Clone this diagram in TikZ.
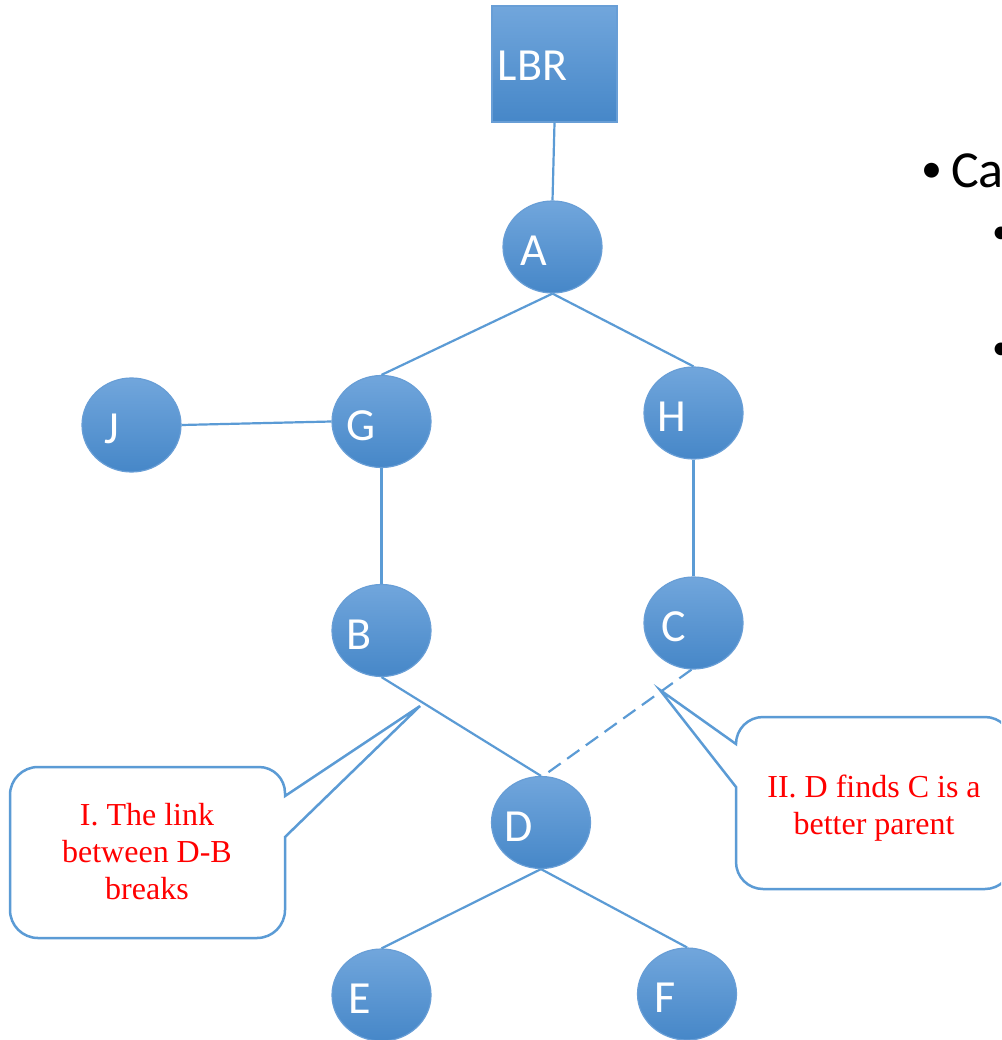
\documentclass[tikz,border=0pt]{standalone}
\usepackage{fontspec}
\setmainfont{Liberation Serif}
\newfontfamily\calfont{Carlito}
\usetikzlibrary{shapes.geometric}
\definecolor{edgeblue}{RGB}{91,155,213}
\definecolor{topblue}{RGB}{113,166,220}
\definecolor{botblue}{RGB}{70,135,200}
\definecolor{rimblue}{RGB}{104,158,214}
\tikzset{
  vtx/.style={ellipse, minimum width=99pt, minimum height=92pt, inner sep=0pt,
    top color=topblue, bottom color=botblue, draw=rimblue, line width=1.2pt},
  rootbox/.style={rectangle, minimum width=125pt, minimum height=116pt, inner sep=0pt,
    top color=topblue, bottom color=botblue, draw=rimblue, line width=1.2pt},
  vlabel/.style={text=white, font=\calfont\fontsize{46}{50}\selectfont},
  link/.style={draw=edgeblue, line width=2.2pt},
  broken/.style={link, dash pattern=on 15pt off 8pt},
  balloon/.style={draw=edgeblue, line width=2.5pt, fill=white, line join=miter},
  note/.style={text=red, align=center, font=\fontsize{32}{37}\selectfont},
  slide/.style={text=black, font=\calfont\fontsize{52}{60}\selectfont, inner sep=0pt},
  dotbig/.style={text=black, font=\calfont\fontsize{42}{50}\selectfont, inner sep=0pt},
  dotsmall/.style={text=black, font=\calfont\fontsize{36}{44}\selectfont, inner sep=0pt}
}
\begin{document}
\begin{tikzpicture}[x=1pt,y=1pt]
\useasboundingbox (0,0) rectangle (1001,-1040);
\clip (0,0) rectangle (1001,-1040);
\fill[white] (0,0) rectangle (1001,-1040);

% nodes
\node[rootbox, label={[vlabel, xshift=-22pt, yshift=-2pt]center:LBR}] (lbr) at (554.5,-64) {};
\node[vtx, label={[vlabel, xshift=-19pt, yshift=-4pt]center:A}] (a) at (552.5,-247) {};
\node[vtx, label={[vlabel, xshift=-20pt, yshift=-4pt]center:G}] (g) at (381.5,-421.5) {};
\node[vtx, minimum height=94pt, label={[vlabel, xshift=-20pt, yshift=-4pt]center:J}] (j) at (131.5,-425) {};
\node[vtx, label={[vlabel, xshift=-22pt, yshift=-4pt]center:H}] (h) at (693.5,-413) {};
\node[vtx, label={[vlabel, xshift=-22pt, yshift=-4pt]center:B}] (b) at (381.5,-630.5) {};
\node[vtx, label={[vlabel, xshift=-20pt, yshift=-4pt]center:C}] (c) at (693.5,-623) {};
\node[vtx, label={[vlabel, xshift=-22pt, yshift=-4pt]center:D}] (d) at (541,-822.5) {};
\node[vtx, label={[vlabel, xshift=-22pt, yshift=-4pt]center:E}] (e) at (381.5,-995) {};
\node[vtx, label={[vlabel, xshift=-22pt, yshift=-4pt]center:F}] (f) at (687,-994) {};

% connectors
\draw[link] (lbr.south) -- (a.north);
\draw[link] (a.south) -- (g.north);
\draw[link] (a.south) -- (h.north);
\draw[link] (j.east) -- (g.west);
\draw[link] (g.south) -- (b.north);
\draw[link] (h.south) -- (c.north);
\draw[link] (b.south) -- (d.north);
\draw[broken] ([xshift=-2pt]c.south) -- ([xshift=5pt,yshift=2pt]d.north);
\draw[link] (d.south) -- (e.north);
\draw[link] (d.south) -- (f.north);

% callouts
\coordinate (tipone) at (420,-706);
\coordinate (tiptwo) at (660,-690);
\draw[balloon] (285,-796) -- (tipone) -- (285,-837) -- (285,-910)
  arc[start angle=0, end angle=-90, radius=28] -- (38,-938)
  arc[start angle=270, end angle=180, radius=28] -- (10,-795)
  arc[start angle=180, end angle=90, radius=28] -- (259,-767)
  arc[start angle=90, end angle=0, radius=26] -- cycle;
\draw[balloon] (736,-744) -- (tiptwo) -- (736,-787) -- (736,-862)
  arc[start angle=180, end angle=270, radius=27] -- (985,-889)
  arc[start angle=270, end angle=360, radius=27] -- (1012,-744)
  arc[start angle=0, end angle=90, radius=27] -- (763,-717)
  arc[start angle=90, end angle=180, radius=27] -- cycle;
\node[note] (noteone) at (147,-852) {I. The link\\between D-B\\breaks};
\node[note] (notetwo) at (874,-808) {II. D finds C is a\\better parent};

% slide text on the right
\node[slide, anchor=base west] (ca) at (951,-188) {Ca};
\node[dotbig, anchor=base east] (bulletone) at (943,-183) {•};
\node[dotsmall, anchor=base west] (bullettwo) at (992,-244) {•};
\node[dotsmall, anchor=base west] (bulletthree) at (992,-359) {•};
\end{tikzpicture}
\end{document}
